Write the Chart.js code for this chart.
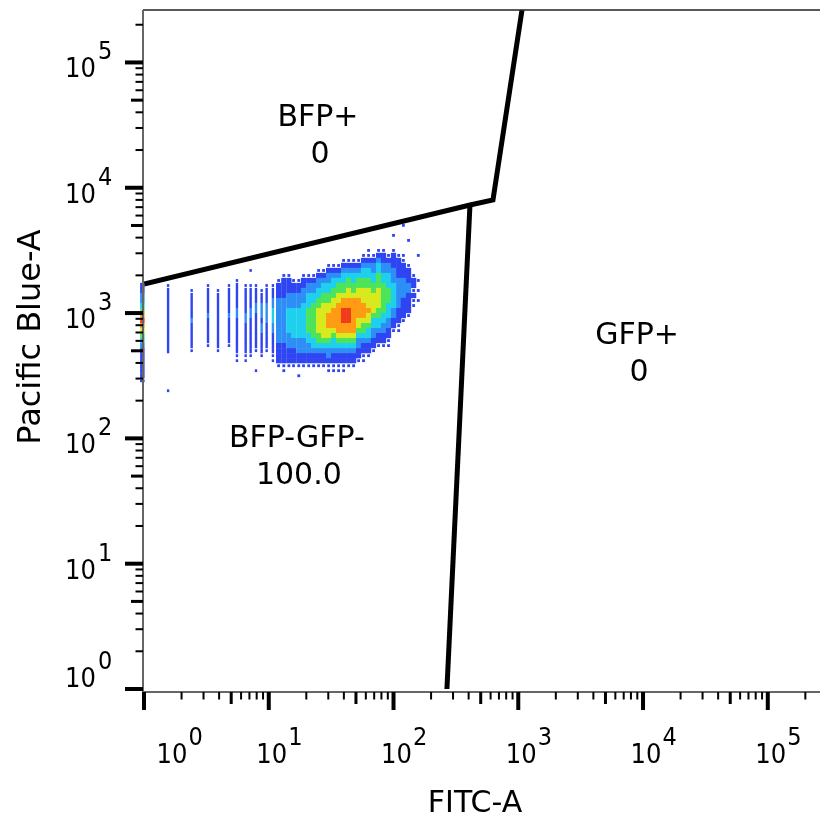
<!DOCTYPE html>
<html>
<head>
<meta charset="utf-8">
<script src="https://cdn.jsdelivr.net/npm/chart.js@4.4.1/dist/chart.umd.min.js"></script>
<style>
  html, body { margin: 0; padding: 0; background: #fff; }
  #wrap { width: 820px; height: 825px; }
</style>
</head>
<body>
<div id="wrap"><canvas id="dotplot" width="820" height="825"></canvas></div>
<script>
// FITC-A vs Pacific Blue-A dot plot

// Pacific Blue-A bins of the density grid, top to bottom
const gridY = [5012, 4571, 4169, 3802, 3467, 3162, 2884, 2630, 2399, 2188, 1995, 1820,
  1660, 1514, 1380, 1259, 1148, 1047, 955, 871, 794, 724, 661, 603,
  550, 501, 457, 417, 380, 347, 316, 288, 263, 240, 219, 200];

// low FITC values come in discrete columns (density per gridY row, '.' = empty)
const stripeX = [1.56, 2.41, 3.26, 3.92, 4.8, 5.56, 6.53, 7.16, 7.9, 8.77, 9.62, 10.8];
const stripeCells = [
  "............12222222222222.......1..",
  ".............1222223222221..........",
  "............1222223222221...........",
  ".............1222222222221..........",
  "............1222223222221...........",
  "...........12222233222222211........",
  "............1222223322222211........",
  ".........1..122223322222221.........",
  "............12223322222221...1......",
  ".............12233323322221.........",
  "............12223333222221..........",
  "............1223344433222211........"
];

// events at or below the FITC axis minimum, piled on the left edge
const edgeX = 0.97;
const edgeCells = "............22334578765432222221....";

// main population, FITC bins
const cloudX = [12.0, 13.2, 14.5, 15.8, 17.4, 19.0, 20.9, 22.9, 25.1, 27.5, 30.2, 33.1,
  36.3, 39.8, 43.7, 47.9, 52.5, 57.5, 63.1, 69.2, 75.9, 83.2, 91.2, 100,
  110, 120, 132, 145, 158];
const cloudCells = [
  "...........122233333333322221.......",
  "..........12222333333333222211......",
  "..........1222333444443332221.......",
  "...........122333444444332221.......",
  "...........122333444444333221.1.....",
  "..........1223334444444333221.......",
  "..........1233444555554433221.......",
  "..........1233445555555443221.......",
  ".........12334455666665543221.......",
  ".........12344556666666543221.......",
  "........1233445566777665433211......",
  "........1234455667777654432211......",
  "........1234556677777765432211......",
  ".......12344556778887765432211......",
  ".......1234556677888776543221.......",
  ".......1234455677777776543221.......",
  ".......123455667777665433221........",
  "......1234455666777655432211........",
  ".....1123445566667665443221.........",
  "......12334455666654433221..........",
  ".....12344555666655443221...........",
  ".....12233445555554433221...........",
  "......1233444555444332211...........",
  "..1..12223334444433221..............",
  "......1222233333322211..............",
  "1.....11222333322221................",
  "...1....12223322221.................",
  "..........1221211...................",
  "......1....1.1.1...................."
];

// gate outlines
const bfpGateX = [1, 410, 627, 1071];
const bfpGateY = [1706, 7290, 7990, 262144];
const gfpGateX = [410, 268];
const gfpGateY = [7290, 1];

const gateNames = ['BFP+', 'GFP+', 'BFP-GFP-'];
const gatePercents = ['0', '0', '100.0'];
const gateLabelX = [24.8, 8950, 16.8];
const gateLabelY = [31100, 567, 85.4];

const axisMin = 1;
const axisMax = 262144;
const decadeExps = ['0', '1', '2', '3', '4', '5'];

const levelColors = [null, '#2f45f2', '#2f45f2', '#2d8ef6', '#1fd0ee', '#4ce45a', '#d8ea1e', '#ff9c14', '#f23a1c'];

const cells = [];
function addColumn(x, row, kind) {
  for (let r = 0; r < row.length && r < gridY.length; r++) {
    const lvl = Number(row[r]) || 0;
    if (lvl) cells.push({ x: x, y: gridY[r], lvl: lvl, kind: kind });
  }
}
stripeX.forEach((x, i) => addColumn(x, stripeCells[i], 'stripe'));
cloudX.forEach((x, i) => addColumn(x, cloudCells[i], 'cloud'));
addColumn(edgeX, edgeCells, 'edge');

const sans = '"DejaVu Sans", "Liberation Sans", sans-serif';
const tickFont = '"DejaVu Sans Condensed", "DejaVu Sans", sans-serif';

const flowAxes = {
  id: 'flowAxes',
  afterDraw(chart) {
    const { ctx, chartArea: a } = chart;
    const xs = chart.scales.x, ys = chart.scales.y;
    const axX = a.left - 1;
    const axY = a.bottom + 3;
    ctx.save();

    // frame
    ctx.strokeStyle = '#222';
    ctx.lineWidth = 1.5;
    ctx.beginPath();
    ctx.moveTo(axX, a.top);
    ctx.lineTo(a.right, a.top);
    ctx.stroke();
    ctx.strokeStyle = '#666';
    ctx.lineWidth = 2;
    ctx.beginPath();
    ctx.moveTo(axX, a.top);
    ctx.lineTo(axX, axY);
    ctx.lineTo(a.right, axY);
    ctx.stroke();

    // ticks
    ctx.fillStyle = '#000';
    for (let e = 0; e < decadeExps.length; e++) {
      for (let m = 1; m <= 9; m++) {
        const v = m * Math.pow(10, e);
        if (v > axisMax) continue;
        const len = m === 1 ? 18 : (m === 5 ? 12 : 7.5);
        const w = m === 1 ? 4 : (m === 5 ? 3 : 2);
        const px = xs.getPixelForValue(v);
        const py = ys.getPixelForValue(v);
        ctx.fillRect(px - w / 2, axY, w, len);
        ctx.fillRect(axX - len, py - w / 2, len, w);
      }
    }

    // decade labels
    ctx.textBaseline = 'alphabetic';
    decadeExps.forEach((exp, e) => {
      const v = Math.pow(10, e);
      const px = xs.getPixelForValue(v);
      const py = ys.getPixelForValue(v);
      ctx.font = '27px ' + tickFont;
      const baseW = ctx.measureText('10').width;
      // x axis
      const cx = Math.max(px + 3, a.left + 28);
      ctx.textAlign = 'left';
      ctx.fillText('10', cx - baseW / 2, 763);
      // y axis
      const by = Math.min(py + 15, a.bottom - 2);
      ctx.textAlign = 'right';
      ctx.fillText('10', 96, by);
      ctx.font = '25px ' + tickFont;
      ctx.textAlign = 'left';
      ctx.fillText(exp, cx + baseW / 2 + 1, 745);
      ctx.fillText(exp, 98, by - 18);
    });

    // axis titles
    ctx.textAlign = 'center';
    ctx.font = '30px ' + sans;
    ctx.fillText('FITC-A', 475, 812);
    ctx.save();
    ctx.translate(40, 337);
    ctx.rotate(-Math.PI / 2);
    ctx.font = '32px ' + sans;
    ctx.fillText('Pacific Blue-A', 0, 0);
    ctx.restore();

    // gate names and frequencies
    ctx.font = '30px ' + sans;
    gateNames.forEach((name, i) => {
      const gx = xs.getPixelForValue(gateLabelX[i]);
      const gy = ys.getPixelForValue(gateLabelY[i]);
      ctx.fillText(name, gx, gy);
      ctx.fillText(gatePercents[i], gx + 2, gy + 37);
    });
    ctx.restore();
  }
};

const gateLine = (xv, yv) => ({
  data: xv.map((x, i) => ({ x: x, y: yv[i] })),
  showLine: true,
  borderColor: '#000',
  borderWidth: 5,
  borderJoinStyle: 'miter',
  pointRadius: 0
});

new Chart(document.getElementById('dotplot').getContext('2d'), {
  type: 'scatter',
  data: {
    datasets: [
      {
        data: cells,
        clip: { left: 6, top: 0, right: 0, bottom: 0 },
        pointStyle: c => c.raw.kind === 'cloud' ? 'rect' : 'line',
        pointRotation: c => c.raw.kind === 'cloud' ? 0 : 90,
        pointRadius: c => {
          const p = c.raw;
          if (p.kind === 'cloud') return p.lvl === 1 ? 2 : 3.7;
          return p.lvl === 1 ? 1.4 : 2.6;
        },
        pointBorderWidth: c => {
          const p = c.raw;
          if (p.kind === 'cloud') return 0;
          return p.kind === 'edge' ? 4.5 : 2.4;
        },
        pointBackgroundColor: c => levelColors[c.raw.lvl],
        pointBorderColor: c => levelColors[c.raw.lvl]
      },
      gateLine(bfpGateX, bfpGateY),
      gateLine(gfpGateX, gfpGateY)
    ]
  },
  options: {
    responsive: false,
    animation: false,
    events: [],
    layout: { autoPadding: false, padding: { left: 144, right: 0, top: 10, bottom: 136 } },
    plugins: { legend: { display: false }, tooltip: { enabled: false } },
    scales: {
      x: { type: 'logarithmic', min: axisMin, max: axisMax, display: false },
      y: { type: 'logarithmic', min: axisMin, max: axisMax, display: false }
    }
  },
  plugins: [flowAxes]
});
</script>
</body>
</html>
